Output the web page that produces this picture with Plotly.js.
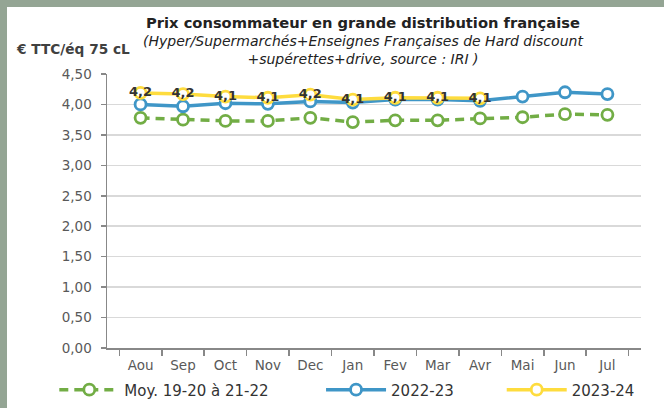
<!DOCTYPE html>
<html>
<head>
<meta charset="utf-8">
<script src="https://cdn.plot.ly/plotly-3.0.1.min.js"></script>
<style>
html,body{margin:0;padding:0;background:#94a594;width:664px;height:408px;overflow:hidden;}
#chart{position:absolute;left:7px;top:7px;width:657px;height:401px;background:#fff;}
</style>
</head>
<body>
<div id="chart"></div>
<script>
const months = ["Aou","Sep","Oct","Nov","Dec","Jan","Fev","Mar","Avr","Mai","Jun","Jul"];
const moyValues = [3.78,3.75,3.73,3.73,3.78,3.71,3.74,3.74,3.77,3.79,3.84,3.83];
const y2223 = [4.00,3.97,4.02,4.01,4.05,4.03,4.08,4.08,4.06,4.13,4.20,4.17];
const y2324 = [4.19,4.17,4.13,4.11,4.16,4.08,4.11,4.11,4.10];
const seriesNames = ["Moy. 19-20 à 21-22","2022-23","2023-24"];

const font = "DejaVu Sans, sans-serif";
const green = "#72ad45", blue = "#3f96c7", yellow = "#fedc3e";

const traces = [
  {x: months, y: moyValues, name: seriesNames[0], legend: "legend", type: "scatter", mode: "lines+markers",
   line: {color: green, width: 3.5, dash: "9px,6px"},
   marker: {symbol: "circle", size: 11, color: "#fff", line: {color: green, width: 2.8}}},
  {x: months, y: y2223, name: seriesNames[1], legend: "legend2", type: "scatter", mode: "lines+markers",
   line: {color: blue, width: 3.5},
   marker: {symbol: "circle", size: 11, color: "#fff", line: {color: blue, width: 2.8}}},
  {x: months.slice(0, y2324.length), y: y2324, name: seriesNames[2], legend: "legend3", type: "scatter",
   mode: "lines+markers+text",
   line: {color: yellow, width: 3.5},
   marker: {symbol: "circle", size: 11, color: "#fff", line: {color: yellow, width: 2.8}},
   texttemplate: "%{y:.1f}", textposition: "middle center",
   textfont: {family: font, size: 13, color: "#333", weight: "bold"}}
];

function leg(x) {
  return {orientation: "h", xref: "container", yref: "container", x: x, xanchor: "left",
    y: 0.045, yanchor: "middle", bgcolor: "rgba(0,0,0,0)",
    font: {family: font, size: 15, color: "#333"}, itemwidth: 60};
}

const layout = {
  width: 657, height: 401,
  margin: {l: 100, r: 23, t: 67, b: 60},
  paper_bgcolor: "#fff", plot_bgcolor: "#fff",
  separators: ", ",
  font: {family: font, color: "#595959", size: 13.5},
  showlegend: true,
  legend: leg(0.072),
  legend2: leg(0.478),
  legend3: leg(0.753),
  xaxis: {type: "category", showline: true, linecolor: "#888", linewidth: 1.5, automargin: false,
    ticks: "outside", tickson: "boundaries", ticklen: 6, tickcolor: "#888", tickwidth: 1.5,
    ticklabelstandoff: 4,
    showgrid: false, tickfont: {size: 13.5, color: "#595959"}, fixedrange: true},
  yaxis: {range: [0, 4.5], dtick: 0.5, tickformat: ".2f", showline: true, linecolor: "#888", linewidth: 1.5,
    automargin: false,
    ticks: "outside", ticklen: 5, tickcolor: "#888", tickwidth: 1.5, ticklabelstandoff: 6,
    showgrid: true, gridcolor: "#d9d9d9", gridwidth: 1.5, zeroline: false,
    tickfont: {size: 13.5, color: "#595959"}},
  annotations: [
    {text: "<b>Prix consommateur en grande distribution française</b>", xref: "paper", yref: "paper",
     x: 0.479, y: 1.0, xanchor: "center", yanchor: "bottom", yshift: 41, showarrow: false,
     font: {family: font, size: 14.7, color: "#222"}},
    {text: "<i>(Hyper/Supermarchés+Enseignes Françaises de Hard discount<br>+supérettes+drive, source : IRI )</i>",
     xref: "paper", yref: "paper", x: 0.479, y: 1.0, xanchor: "center", yanchor: "bottom", yshift: 5,
     showarrow: false, font: {family: font, size: 14, color: "#222"}},
    {text: "<b>€ TTC/éq 75 cL</b>", xref: "paper", yref: "paper", x: -0.175, y: 1.0, xanchor: "left",
     yanchor: "bottom", yshift: 15, showarrow: false, font: {family: font, size: 13.7, color: "#404040"}}
  ]
};

Plotly.newPlot("chart", traces, layout, {displayModeBar: false, staticPlot: true});
</script>
</body>
</html>
